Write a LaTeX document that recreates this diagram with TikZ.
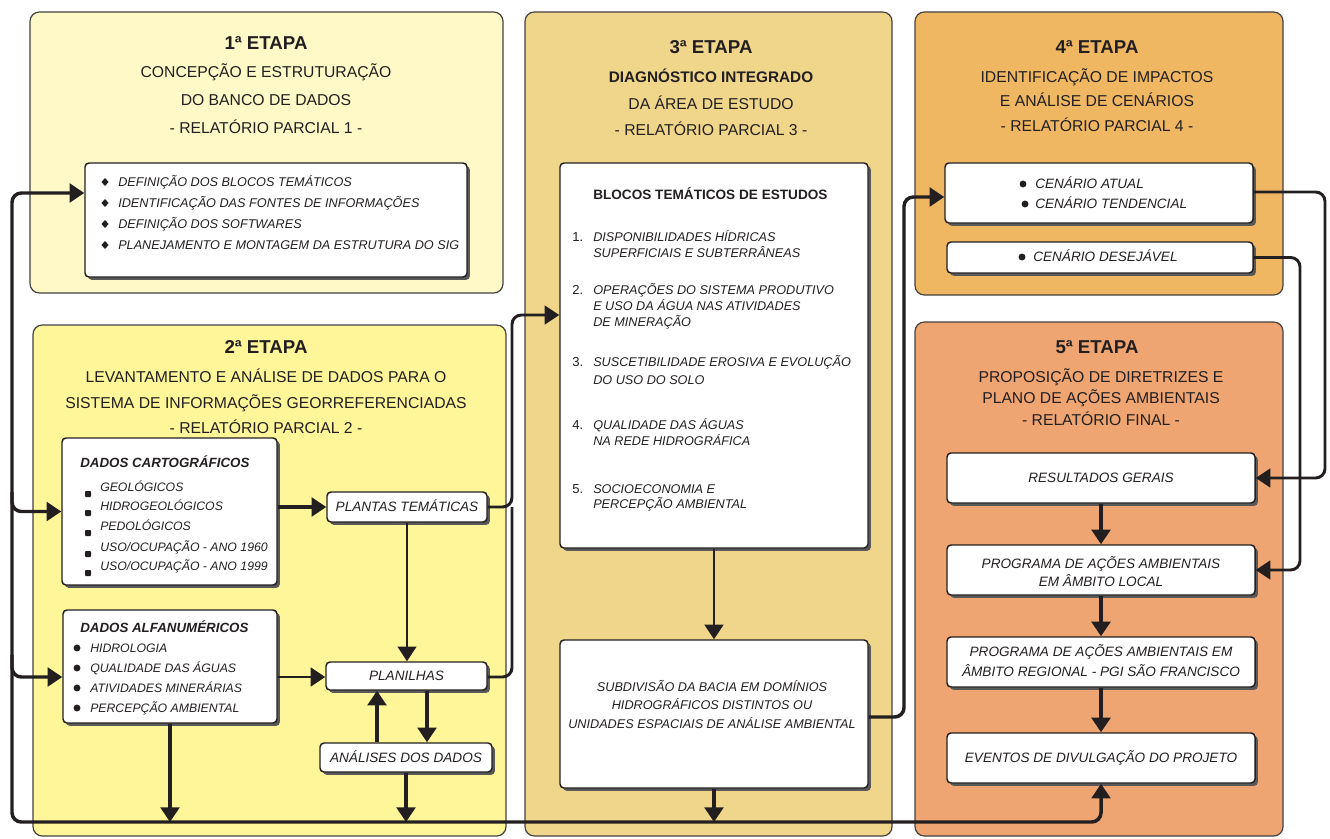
\documentclass[tikz,border=0pt]{standalone}
\usepackage{fontspec}
\setmainfont{Liberation Sans}
\usetikzlibrary{arrows.meta,shadows,fit,calc}
\definecolor{cA}{HTML}{FEF9C6}
\definecolor{cB}{HTML}{FFF69A}
\definecolor{cC}{HTML}{F0D68A}
\definecolor{cD}{HTML}{F0B763}
\definecolor{cE}{HTML}{EEA571}
\definecolor{ink}{HTML}{231F20}
\begin{document}
\begin{tikzpicture}[x=0.75pt,y=-0.75pt,
  panel/.style={draw=ink!85, line width=0.9pt, rounded corners=7pt, inner sep=0pt},
  wbox/.style={draw=ink, fill=white, line width=1.1pt, rounded corners=3pt, inner sep=0pt,
    drop shadow={shadow xshift=2.2pt, shadow yshift=-2.2pt, fill=black!65, opacity=1}},
  ln/.style={draw=ink, line width=2.6pt, rounded corners=7pt},
  tip/.style={-{Triangle[length=11pt,width=14pt]}},
  ttl/.style={font=\bfseries\fontsize{14}{16}\selectfont, text=ink, inner sep=0pt, text height=10pt, text depth=0pt},
  sub/.style={font=\fontsize{11.8}{14}\selectfont, text=ink, inner sep=0pt, text height=8.5pt, text depth=0pt},
  subb/.style={sub, font=\bfseries\fontsize{11.5}{14}\selectfont},
  itx/.style={font=\itshape\fontsize{9.5}{11}\selectfont, text=ink, inner sep=0pt, text height=6.8pt, text depth=0pt},
  its/.style={font=\itshape\fontsize{9.2}{11}\selectfont, text=ink, inner sep=0pt, text height=6.6pt, text depth=0pt},
  itl/.style={font=\itshape\fontsize{10.2}{12}\selectfont, text=ink, inner sep=0pt, text height=7.3pt, text depth=0pt},
  bhd/.style={font=\bfseries\itshape\fontsize{10}{12}\selectfont, text=ink, inner sep=0pt, text height=7.2pt, text depth=0pt},
  bhu/.style={font=\bfseries\fontsize{10.2}{12}\selectfont, text=ink, inner sep=0pt, text height=7.3pt, text depth=0pt},
  num/.style={font=\fontsize{9.8}{12}\selectfont, text=ink, inner sep=0pt, text height=7pt, text depth=0pt},
  bul/.style={fill=ink}
]
\useasboundingbox (0,0) rectangle (1330,838);

% ---------- panels ----------
\node[panel, fill=cA, fit={(30,12) (503,293)}] (p1) {};
\node[panel, fill=cB, fit={(33,325) (506,836)}] (p2) {};
\node[panel, fill=cC, fit={(525,12) (892,836)}] (p3) {};
\node[panel, fill=cD, fit={(915,12) (1283,295)}] (p4) {};
\node[panel, fill=cE, fit={(915,322) (1283,836)}] (p5) {};

% ---------- boxes ----------
\node[wbox, fit={(85,163) (467,277)}] (b1) {};
\node[wbox, fit={(62,438) (277,585)}] (carto) {};
\node[wbox, fit={(327,492) (487,522)}] (plantas) {};
\node[wbox, fit={(63,610) (277,723)}] (alfa) {};
\node[wbox, fit={(326,662) (487,690)}] (planilhas) {};
\node[wbox, fit={(320,743) (492,772)}] (analises) {};
\node[wbox, fit={(560,163) (868,548)}] (blocos) {};
\node[wbox, fit={(560,640) (868,788)}] (subdiv) {};
\node[wbox, fit={(945,163) (1253,223)}] (cen1) {};
\node[wbox, fit={(947,242) (1253,273)}] (cen2) {};
\node[wbox, fit={(947,453) (1255,503)}] (res) {};
\node[wbox, fit={(947,545) (1255,595)}] (local) {};
\node[wbox, fit={(947,637) (1255,687)}] (reg) {};
\node[wbox, fit={(947,733) (1255,783)}] (evt) {};

% ---------- helper coordinates ----------
\coordinate (L1) at (12,193);
\coordinate (L2) at (12,822);
\coordinate (L3) at (evt.south |- L2);
\coordinate (jC) at (12,492);
\coordinate (jA) at (12,655);
\coordinate (yA) at (0,677);
\coordinate (yB) at (0,315);
\coordinate (xJ) at (512,0);
\coordinate (x377) at (377,0);
\coordinate (x427) at (427,0);
\coordinate (yC) at (0,197);
\coordinate (xC) at (904,0);
\coordinate (yD) at (0,717);
\coordinate (yE) at (0,192);
\coordinate (xE) at (1325,0);
\coordinate (xG) at (1300,0);

% ---------- connectors ----------
\draw[ln, {Triangle[length=11pt,width=14pt]}-{Triangle[length=11pt,width=14pt]}]
  (b1.west |- L1) -- (L1) -- (L2) -- (L3) -- (evt.south);
\draw[ln, tip] (jC) |- (carto.west);
\draw[ln, tip] (jA) |- (alfa.west |- yA);
\draw[ln, tip] (alfa.south) -- (alfa.south |- L2);
\draw[ln, tip] (analises.south) -- (analises.south |- L2);
\draw[ln, tip] (subdiv.south) -- (subdiv.south |- L2);

\draw[ln, tip] (carto.east |- plantas.west) -- (plantas.west);
\draw[ln, line width=2pt, tip] (alfa.east |- yA) -- (planilhas.west |- yA);
\draw[ln, line width=2.2pt, tip] (plantas.east) -| (xJ |- yB) -- (blocos.west |- yB);
\draw[ln, line width=2.2pt] (planilhas.east |- yA) -| (xJ |- plantas.east);
\draw[ln, line width=1.6pt, tip] (plantas.south) -- (plantas.south |- planilhas.north);
\draw[ln, line width=3.6pt, tip] (x377 |- analises.north) -- (x377 |- planilhas.south);
\draw[ln, line width=2.4pt, tip] (x427 |- planilhas.south) -- (x427 |- analises.north);

\draw[ln, line width=2pt, tip] (blocos.south) -- (subdiv.north);
\draw[ln, tip] (subdiv.east |- yD) -| (xC |- yC) -- (cen1.west |- yC);

\draw[ln, line width=2.2pt, tip] (cen1.east |- yE) -| (xE |- res.east) -- (res.east);
\draw[ln, line width=2.2pt, tip] (cen2.east) -| (xG |- local.east) -- (local.east);

\draw[ln, line width=3pt, tip] (res.south) -- (local.north);
\draw[ln, line width=3pt, tip] (local.south) -- (reg.north);
\draw[ln, line width=3pt, tip] (reg.south) -- (evt.north);

% ---------- 1a etapa ----------
\node[ttl] (t1) at (266,43) {1ª ETAPA};
\node[sub] (t1a) at (266,72) {CONCEPÇÃO E ESTRUTURAÇÃO};
\node[sub] (t1b) at (266,100) {DO BANCO DE DADOS};
\node[sub] (t1c) at (266,128) {- RELATÓRIO PARCIAL 1 -};
\foreach \yy/\tt [count=\i] in {182/DEFINIÇÃO DOS BLOCOS TEMÁTICOS, 203/IDENTIFICAÇÃO DAS FONTES DE INFORMAÇÕES, 224/DEFINIÇÃO DOS SOFTWARES, 245/PLANEJAMENTO E MONTAGEM DA ESTRUTURA DO SIG}{
  \fill[bul] (105,\yy-4) -- (108.5,\yy) -- (105,\yy+4) -- (101.5,\yy) -- cycle;
  \node[itx, anchor=west] (b1t\i) at (118,\yy) {\tt};
}

% ---------- 2a etapa ----------
\node[ttl] (t2) at (266,347) {2ª ETAPA};
\node[sub] (t2a) at (266,377) {LEVANTAMENTO E ANÁLISE DE DADOS PARA O};
\node[sub] (t2b) at (266,403) {SISTEMA DE INFORMAÇÕES GEORREFERENCIADAS};
\node[sub] (t2c) at (266,428) {- RELATÓRIO PARCIAL 2 -};

\node[bhd, anchor=west] (cth) at (80,463) {DADOS CARTOGRÁFICOS};
\foreach \yy/\tt [count=\i] in {487/{GEOLÓGICOS}, 506/{HIDROGEOLÓGICOS}, 526/{PEDOLÓGICOS}, 547/{USO/OCUPAÇÃO - ANO 1960}, 566/{USO/OCUPAÇÃO - ANO 1999}}{
  \fill[bul, rounded corners=0.6pt] (85,\yy+4) rectangle (91,\yy+10);
  \node[its, anchor=west] (ct\i) at (100,\yy) {\tt};
}
\node[bhd, anchor=west] (alh) at (80,628) {DADOS ALFANUMÉRICOS};
\foreach \yy/\tt [count=\i] in {648/HIDROLOGIA, 668/QUALIDADE DAS ÁGUAS, 688/ATIVIDADES MINERÁRIAS, 708/PERCEPÇÃO AMBIENTAL}{
  \fill[bul] (77,\yy) circle (2.6pt);
  \node[its, anchor=west] (al\i) at (90,\yy) {\tt};
}
\node[itl] (plt) at (plantas.center) {PLANTAS TEMÁTICAS};
\node[itl] (pnt) at (planilhas.center) {PLANILHAS};
\node[itl] (ant) at (analises.center) {ANÁLISES DOS DADOS};

% ---------- 3a etapa ----------
\node[ttl] (t3) at (711,47) {3ª ETAPA};
\node[subb] (t3a) at (711,77) {DIAGNÓSTICO INTEGRADO};
\node[sub] (t3b) at (711,104) {DA ÁREA DE ESTUDO};
\node[sub] (t3c) at (711,130) {- RELATÓRIO PARCIAL 3 -};
\node[bhu, anchor=west] (bth) at (593,195) {BLOCOS TEMÁTICOS DE ESTUDOS};
\node[num, anchor=west] (n1) at (572,237) {1.};
\node[itx, anchor=west] (i1a) at (593,237) {DISPONIBILIDADES HÍDRICAS};
\node[itx, anchor=west] (i1b) at (593,253) {SUPERFICIAIS E SUBTERRÂNEAS};
\node[num, anchor=west] (n2) at (572,290) {2.};
\node[itx, anchor=west] (i2a) at (593,290) {OPERAÇÕES DO SISTEMA PRODUTIVO};
\node[itx, anchor=west] (i2b) at (593,306) {E USO DA ÁGUA NAS ATIVIDADES};
\node[itx, anchor=west] (i2c) at (593,322) {DE MINERAÇÃO};
\node[num, anchor=west] (n3) at (572,362) {3.};
\node[itx, anchor=west] (i3a) at (593,362) {SUSCETIBILIDADE EROSIVA E EVOLUÇÃO};
\node[itx, anchor=west] (i3b) at (593,380) {DO USO DO SOLO};
\node[num, anchor=west] (n4) at (572,425) {4.};
\node[itx, anchor=west] (i4a) at (593,425) {QUALIDADE DAS ÁGUAS};
\node[itx, anchor=west] (i4b) at (593,441) {NA REDE HIDROGRÁFICA};
\node[num, anchor=west] (n5) at (572,489) {5.};
\node[itx, anchor=west] (i5a) at (593,489) {SOCIOECONOMIA E};
\node[itx, anchor=west] (i5b) at (593,504) {PERCEPÇÃO AMBIENTAL};
\node[itx] (s1) at (712,687) {SUBDIVISÃO DA BACIA EM DOMÍNIOS};
\node[itx] (s2) at (712,705) {HIDROGRÁFICOS DISTINTOS OU};
\node[itx] (s3) at (712,724) {UNIDADES ESPACIAIS DE ANÁLISE AMBIENTAL};

% ---------- 4a etapa ----------
\node[ttl] (t4) at (1097,47) {4ª ETAPA};
\node[sub] (t4a) at (1097,77) {IDENTIFICAÇÃO DE IMPACTOS};
\node[sub] (t4b) at (1097,101) {E ANÁLISE DE CENÁRIOS};
\node[sub] (t4c) at (1097,126) {- RELATÓRIO PARCIAL 4 -};
\fill[bul] (1023,184) circle (2.6pt);
\node[itl, anchor=west] (c1) at (1035,184) {CENÁRIO ATUAL};
\fill[bul] (1025,204) circle (2.6pt);
\node[itl, anchor=west] (c2) at (1035,204) {CENÁRIO TENDENCIAL};
\fill[bul] (1022,257) circle (2.6pt);
\node[itl, anchor=west] (c3) at (1033,257) {CENÁRIO DESEJÁVEL};

% ---------- 5a etapa ----------
\node[ttl] (t5) at (1097,347) {5ª ETAPA};
\node[sub] (t5a) at (1101,377) {PROPOSIÇÃO DE DIRETRIZES E};
\node[sub] (t5b) at (1101,398) {PLANO DE AÇÕES AMBIENTAIS};
\node[sub] (t5c) at (1101,420) {- RELATÓRIO FINAL -};
\node[itl] (r1) at (res.center) {RESULTADOS GERAIS};
\node[itl] (l1) at (1101,564) {PROGRAMA DE AÇÕES AMBIENTAIS};
\node[itl] (l2) at (1101,582) {EM ÂMBITO LOCAL};
\node[itl] (g1) at (1101,652) {PROGRAMA DE AÇÕES AMBIENTAIS EM};
\node[itl] (g2) at (1101,672) {ÂMBITO REGIONAL - PGI SÃO FRANCISCO};
\node[itl] (e1) at (evt.center) {EVENTOS DE DIVULGAÇÃO DO PROJETO};
\end{tikzpicture}
\end{document}
